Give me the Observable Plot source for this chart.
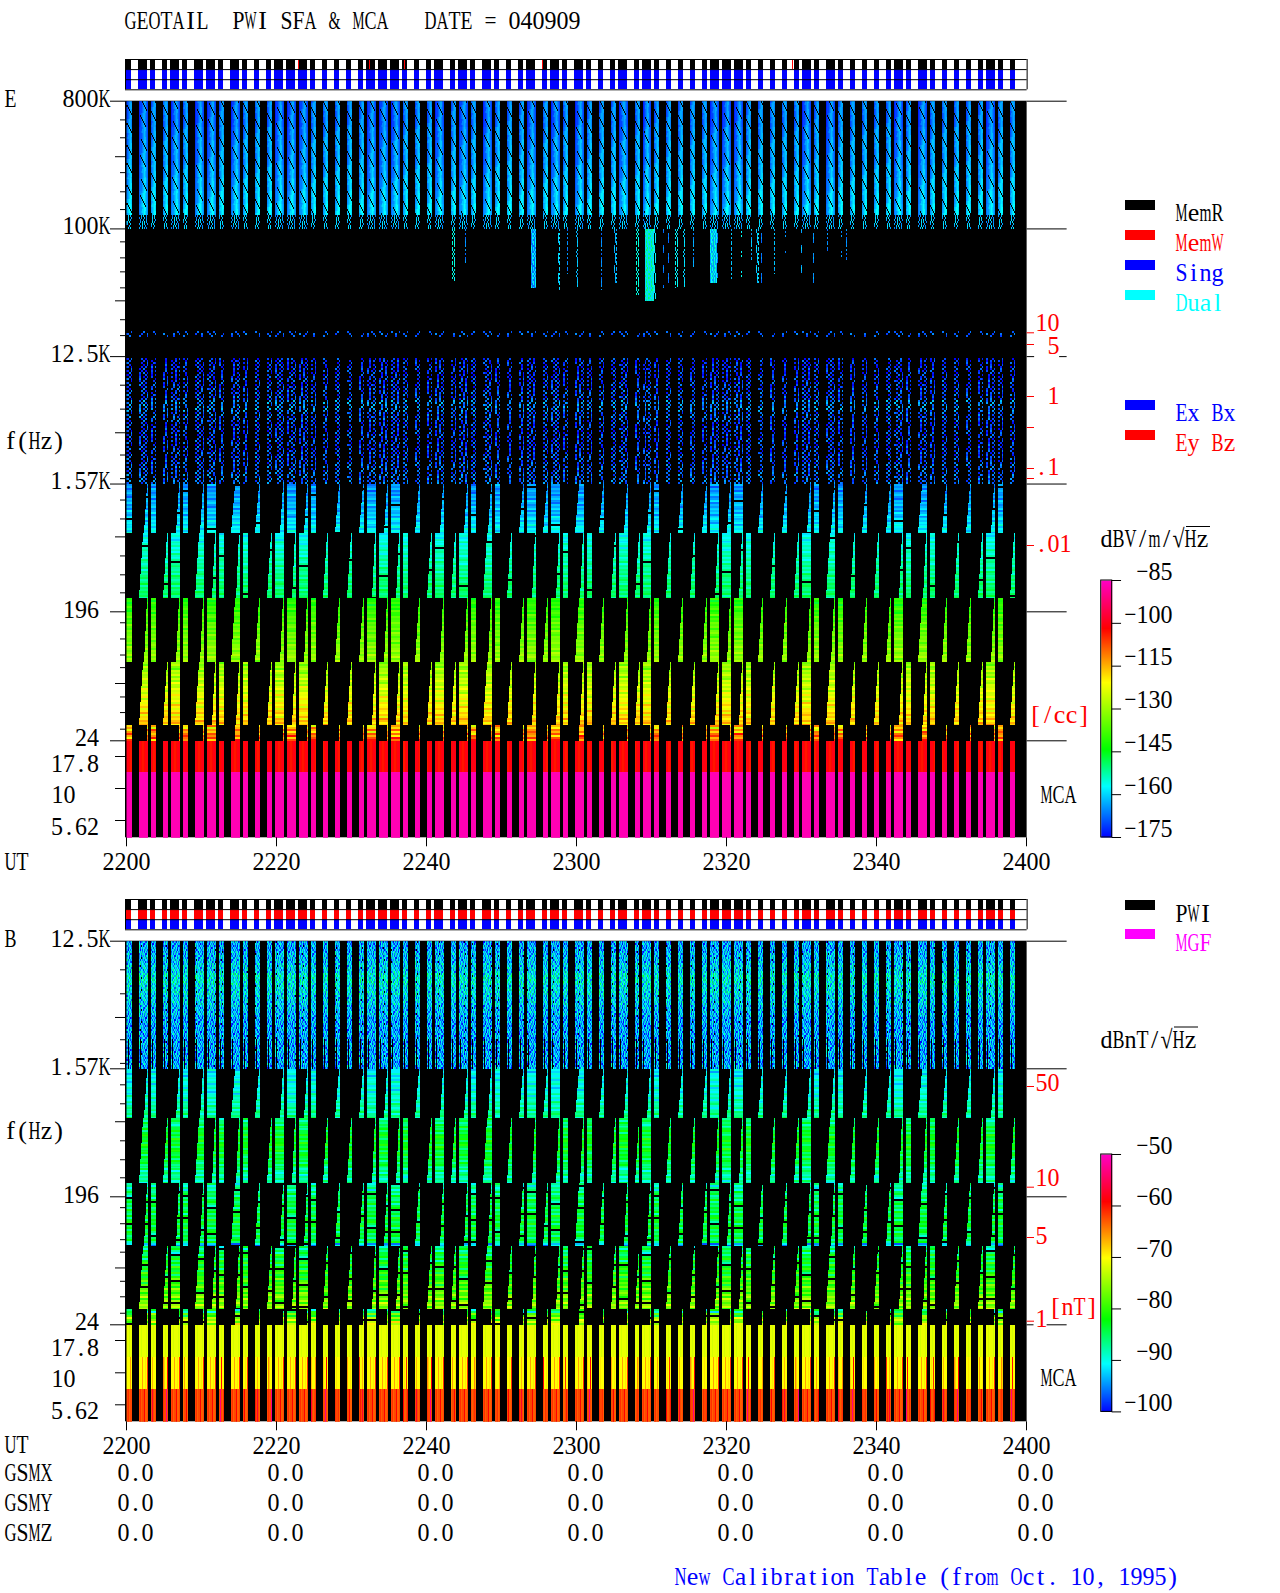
<!DOCTYPE html>
<html><head><meta charset="utf-8">
<script src="https://cdn.jsdelivr.net/npm/d3@7"></script>
<script src="https://cdn.jsdelivr.net/npm/@observablehq/plot@0.6"></script>
<style>
html,body{margin:0;background:#fff}
#page{position:relative;width:1280px;height:1593px;overflow:hidden;background:#fff}
#page svg{position:absolute}
.sw{position:absolute;width:30px;height:10px}
</style></head><body><div id="page"></div>
<script>
// ---------- values ----------
const burstStart=[0,96,192,288,352,448,544,640,736,832,928,1024,1120,1184,1280,1376,1472,1568,1664,1760,1856,1920,2016,2112,2208,2304,2400,2464,2592,2656,2752,2848,2944,3040,3136,3200,3328,3392,3488,3584,3680,3776,3872,3936,4064,4128,4224,4320,4416,4512,4608,4672,4768,4864,4960,5056,5152,5248,5344,5408,5504,5600,5696,5792,5888,5984,6080,6144,6240,6336,6432,6528,6624,6720,6816,6880,6976,7072];
const burstWide="nwnnwnwwnwnnnwwwnnnnnwwwnnnwnwnwnnnwnwnwnnnwnwnnnnnwwwnnnnnwnwnnnnnwnwnnnnnwnn";
const burstOdd ="RNR-NRNR-W-W-NRNR-W-WRNR-W-N-NRNR-WRWR-W-W-N-NR-W-WRNR-W-W-NRNR-W-WR-W-W-W-NR-";
const burstEven="-W-WR-WNRNR-WRNR-W-W-NRNR-WRWR-W-W-N-NRNR-WRWR-W-W-NRNR-W-WR-W-W-W-NRNR-W-WR-W";
const memWrite=[1376,1944,2224,3328,5328];
const xTicks=[0,1200,2400,3600,4800,6000,7200];
const xLabels=["2200","2220","2240","2300","2320","2340","2400"];
const gsmX=["0.0","0.0","0.0","0.0","0.0","0.0","0.0"];
const gsmY=["0.0","0.0","0.0","0.0","0.0","0.0","0.0"];
const gsmZ=["0.0","0.0","0.0","0.0","0.0","0.0","0.0"];

const eMajor=[800000,100000,12500,1570,196,24];
const eMid=[324000,31000,3617,664,61,17.8,10,5.62];
const eMinor=[590000,441000,250000,183000,137000,81000,62400,49700,38300,22800,17600,7850,5316,2518,1714,1210,889,487,358,267,164,126,97,79,49,38,29];
const bMajor=[12500,1570,196,24];
const bMid=[3617,664,61,17.8,10,5.62];
const bMinor=[7850,5316,2518,1714,1210,889,487,358,267,164,126,97,79,49,38,29];
const eFreqNames=["800K","100K","12.5K","1.57K","196","24","17.8","10","5.62"];
const eFreqAt=[800000,100000,12500,1570,196,24,17.8,10,5.62];
const bFreqNames=["12.5K","1.57K","196","24","17.8","10","5.62"];
const bFreqAt=[12500,1570,196,24,17.8,10,5.62];

const blockEdges=[1570,708,246,87,30.8,24,13.3,7.5,3.2];
const eBlock1=[-165,-164,-163,-162,-160,-158];
const eBlock2=[-157,-155,-154,-153,-152,-151,-150,-150];
const eBlock3=[-142,-140,-138,-136,-135,-134,-132,-131];
const eBlock4=[-131,-129,-127,-125,-123,-121,-119,-117];
const eBlock5=[-118,-115,-112,-110];
const bBlock1=[-91,-90,-90,-89,-88,-87];
const bBlock2=[-86,-84,-83,-83,-84,-85,-87,-88];
const bBlock3=[-88,-88,-86,-86,-85,-85,-85,-85,-84,-84,-84,-84,-85,-85,-85,-93];
const bBlock4=[-86,-84,-83,-82,-80,-79,-77,-76];
const bBlock5=[-86,-80,-76,-74];
const eStripes=[0,2,-3,1,3,-1,-4,2,0,3,-2,1,-3,4,0,-2,2,null,1,3,0,-1,2,-3,4,1,-2,0,3,-4,2,-1,1,3,-2,0,4,-3,1,-1,2];
const bStripes=[0,2,-3,1,3,-1,-4,null,0,3,-2,1,-3,4,0,-2,2,-4,1,3,null,-1,2,-3,4,1,-2,0,3,-4,2,null,1,3,-2,0,4,-3,1,-1,2];

const eTopRamp=[-168,-168,-167,-166,-166,-165,-164,-163,-162,-161];
const topPatch=["233456543","233456643","23.456643","233.56643","2334.6543","23345.643","233456.43","2334566.3","233456643","234566543","2.4566543","23.566543","234.66543","2345.6543","23456.543","234566.43","233456643","233556643","234556543","233456543"];
const topTail=[".3.4.5.3.","3..5.4..2",".2.4..3..","3..5.3.2.","..4.5..3.","2.3..4.2.",".2..3..3."];
const speckRamp=[-170,-170,-169,-168,-164,-167,-169,-169,-169,-168,-167,-166];
const speckPatch=["3.5..4.2.3.4",".4.3.5..4.2.","5..2.3.4..5.",".3.4..5.3.2.","4.2..5.3..4.","..5.3.2.4.3.","3.4.2..5..2.",".5..3.4.2.4.","2.3.5..4.3..",".4..2.3..5.3","5.3.4..2.4..","..2.5.3.4..5","4..3.2.5..3.",".5.4..3.2.4.","3..2.4.5.3..",".2.5.3..4.2."];
const dotPatch=["..3....4...3","3..5..2..4..",".4...3...2.."];
const eventSec=[2600,2668,2704,3232,3448,3520,3592,3792,3896,3950,4072,4152,4216,4296,4336,4392,4456,4536,4672,4728,4840,4920,5000,5040,5080,5184,5272,5370,5400,5496,5608,5720,5760];
const eventPx=[3,2,1,5,2,1,2,1,3,7,3,9,3,1,1,3,2,1,7,1,1,1,1,3,1,1,1,1,1,1,1,1,1];
const eventEnd=[43000,41000,57000,38000,37000,48000,38000,37000,41000,34000,34000,31000,32000,38000,41000,38000,38000,53000,41000,45000,43000,41000,60000,41000,41000,48000,67000,60000,45000,41000,67000,53000,60000];
const eventLevel=[-156,-162,-166,-158,-160,-166,-162,-166,-162,-156,-156,-151,-157,-166,-166,-158,-160,-164,-155,-166,-162,-158,-162,-160,-166,-162,-166,-166,-162,-164,-166,-166,-166];
const eventPatch=["4.5.3","5.4..","..53.","4..5.","3.54.",".4.3.","5.3.4",".5..3","4.3.5","..4.3"];

const bTopRamp=[-94,-93,-92,-90,-91,-92,-93,-94,-94,-94,-94,-94];
const bTopPatch=["452364735426","635241.36452","347526413675","524637254163","416352746325","263745134652","574126365214","3625473.5146","451637264573","726345152634","345216473526","163542637451","652473514362","2746135.2647","536274163425","425163746351"];

const eMcaRed=[0,0,-2,-3,-3,-2,0,0,0];
const bMca2=[0,0,0,4,0,0,1,0,9,0,0,3,0,0,0,5,2,0,0,11,0,0,1];
const bMca3=[0,1,-1,0,0,3,-1,-1,0,2,0,5,0,-1,0,1,0,0,9,0,-1,1,0];

const eBarTicks=[-85,-100,-115,-130,-145,-160,-175];
const bBarTicks=[-50,-60,-70,-80,-90,-100];
const eDensity=[10,5,1,0.4,0.1,0.05,0.01];
const eDensityNames=["10","5","1","",".1","",".01"];
const bDensity=[50,10,5,1];
const bDensityNames=["50","10","5","1"];

// ---------- layout and styling ----------
const FONT='"Liberation Serif"', FS=26, CHAR=12;
const RED="#ff0000",BLUE="#0000ff",CYAN="#00ffff",MAG="#ff00ff";
const eStops=[-175,-157,-144,-120.5,-101.5,-85], bStops=[-100,-90.5,-82,-70,-59,-50];
const rainbow=["#0000ff","#00ffff","#00ff00","#ffff00","#ff0000","#ff00c0"];
const page=document.getElementById("page");
const baseStyle={background:"transparent",fontFamily:FONT,fontSize:FS+"px",overflow:"visible"};
const W=900;

const measure=document.createElement("canvas").getContext("2d");
measure.font=FS+"px "+FONT;
function mono(svg){ // bitmap-style half-width character cells
  svg.querySelectorAll("text").forEach(el=>{
    const s=el.textContent, n=s.length; if(!n) return;
    const a=getComputedStyle(el).textAnchor;
    const off=a==="middle"?-n*CHAR/2:a==="end"?-n*CHAR:0;
    const base=+(el.getAttribute("x")||0);
    el.style.textAnchor="start"; el.textContent="";
    [...s].forEach((ch,i)=>{
      const t=document.createElementNS("http://www.w3.org/2000/svg","tspan");
      const adv=measure.measureText(ch).width;
      t.setAttribute("x",base+off+i*CHAR+Math.max(0,(CHAR-adv)/2));
      if(adv>CHAR){t.setAttribute("textLength",CHAR);t.setAttribute("lengthAdjust","spacingAndGlyphs");}
      t.textContent=ch; el.appendChild(t);
    });
  });
}
function place(svg,left,top){svg.style.left=left+"px";svg.style.top=top+"px";page.appendChild(svg);mono(svg);return svg;}
function label(t,px,py,fill="black",anchor="start"){return Plot.text([t],{text:d=>d,frameAnchor:"top-left",lineAnchor:"middle",dx:px-126,dy:py,fill,textAnchor:anchor});}
function pick(arr,t){return arr[Math.min(arr.length-1,Math.floor(t*arr.length))];}

// ---------- spectrogram grid ----------
function leftEdge(mode,s,w,t){
  const e=s+w;
  if(mode==="R") return s;
  if(mode==="W") return Math.round(e-((w-4)+4*t));
  return Math.round(e-(1+3*t));
}
function makeGrid(fy,top,H,blocks,stripes,amps,mca,gapBlocks){
  const grid=new Array(W*H).fill(NaN);
  const put=(x,y,v)=>{if(x>=0&&x<W&&y>=0&&y<H) grid[y*W+x]=v;};
  const row=f=>Math.round(fy(f)-top);
  burstStart.forEach((sec,i)=>{
    const s=sec/8,w=burstWide[i]==="w"?9:5;
    blocks.forEach((lv,k)=>{
      const mode=(k%2===0?burstOdd:burstEven)[i];
      if(mode==="-") return;
      const y0=row(blockEdges[k]),y1=row(blockEdges[k+1]);
      for(let y=y0;y<y1;y++){
        const t=k===4?0:(y-y0)/(y1-y0);
        let st=stripes[(Math.floor((y-y0)/2)+i*11)%stripes.length];
        if(st===null){ if(gapBlocks.includes(k)) continue; st=0; }
        const v=pick(lv,(y-y0)/(y1-y0))+st*amps[k];
        for(let x=leftEdge(mode,s,w,t);x<s+w;x++) put(x,y,v);
      }
    });
    mca.forEach((m,k)=>{
      const y0=row(blockEdges[5+k]),y1=row(blockEdges[6+k]);
      for(let y=y0;y<y1;y++) for(let c=0;c<w;c++) put(s+c,y,m.level+m.cols[(c+(w===9?0:i*5))%m.cols.length]);
    });
  });
  return grid;
}
// the image layer: x in seconds, y in image rows
function rasterLayer(grid,H,top,frameTop,frameBottom,stops){
  return place(Plot.plot({width:1280,height:frameBottom+5,marginLeft:126,marginRight:254,marginTop:0,marginBottom:5,style:baseStyle,
    x:{domain:[0,7200],axis:null},y:{domain:[0,H],range:[frameTop,frameBottom],axis:null},
    color:{type:"linear",domain:stops,range:rainbow,clamp:true},
    marks:[
      Plot.rect([0],{x1:-8,x2:7205,y1:0,y2:H,fill:"black"}),
      Plot.raster(grid,{width:W,height:H,x1:0,x2:7200,y1:0,y2:H,pixelSize:1,imageRendering:"pixelated"})
    ]}),0,top);
}

// ---------- E panel ----------
const eDomain=[800000,24,17.8,10,5.62,3.2], eRange=[100.7,740.3,756,788,820,837.3];
const fyE=d3.scaleLog().domain(eDomain).range(eRange);
const eH=737;
const eGrid=makeGrid(fyE,100.7,eH,[eBlock1,eBlock2,eBlock3,eBlock4,eBlock5],eStripes,[1.2,1,1.2,1.5,2.5],
  [{level:-100,cols:eMcaRed},{level:-86,cols:[0]},{level:-86,cols:[0]}],[0,1]);
(function paintETop(){
  const row=f=>Math.round(fyE(f)-100.7);
  const put=(x,y,v)=>{if(x>=0&&x<W&&y>=0&&y<eH) eGrid[y*W+x]=v;};
  const end100=row(100000),spTop=row(12200),spEnd=row(1570),dTop=row(19000);
  burstStart.forEach((sec,i)=>{
    const s=sec/8,w=burstWide[i]==="w"?9:5,cs=w===9?0:2;
    for(let y=0;y<end100;y++){
      const r=Math.floor(y/2),ramp=pick(eTopRamp,y/end100);
      for(let c=0;c<w;c++){
        const tail=y>=end100-14;
        const p=tail?topTail[(r+i*3)%topTail.length]:topPatch[(r+i*3)%topPatch.length];
        const d=p[(c+cs)%9];
        if(d!==".") put(s+c,y,ramp+(d-4)*2.5);
      }
    }
    for(let y=dTop;y<dTop+6;y++){
      const p=dotPatch[Math.floor((y-dTop)/2)];
      for(let c=0;c<w;c++){const d=p[(Math.floor(c/2)+i*5)%12]; if(d!==".") put(s+c,y,-175+d*2);}
    }
    for(let y=spTop;y<spEnd;y++){
      const r=Math.floor((y-spTop)/2),ramp=pick(speckRamp,(y-spTop)/(spEnd-spTop));
      const p=speckPatch[(r+i*7)%speckPatch.length];
      for(let c=0;c<w;c++){
        const d=p[(Math.floor(c/2)+i*5)%12];
        if(d!==".") put(s+c,y,ramp+(d-4)*3);
      }
    }
  });
  eventSec.forEach((sec,j)=>{
    const s=sec/8,w=eventPx[j],y1=row(eventEnd[j]);
    for(let y=end100;y<y1;y++){
      const p=eventPatch[Math.floor(y/2)%eventPatch.length];
      for(let c=0;c<w;c++){
        const d=p[(c+j)%5];
        if(d!=="."||w>=5) put(s+c,y,eventLevel[j]+(d==="."?-9:(d-4)*2));
      }
    }
  });
})();
function freqLabels(names,at,xEnd,dy){
  return names.map((n,i)=>Plot.text([at[i]],{y:d=>d,text:()=>n,frameAnchor:"left",dx:xEnd[i]-126,dy:dy[i],textAnchor:"end"}));
}
function tickMarks(major,mid,minor,right){
  return [
    Plot.ruleY(major,{y:d=>d,x1:-128,x2:-8,stroke:"black"}),
    Plot.ruleY(mid,{y:d=>d,x1:-88,x2:-8,stroke:"black"}),
    Plot.ruleY(minor,{y:d=>d,x1:-48,x2:-8,stroke:"black"}),
    Plot.ruleY(right,{y:d=>d,x1:7205,x2:7525,stroke:"black"})
  ];
}
const xAxis=Plot.axisX({ticks:xTicks,tickFormat:d=>xLabels[xTicks.indexOf(d)],tickSize:9,tickPadding:5,label:null,anchor:"bottom"});
rasterLayer(eGrid,eH,0,100.7,837.3,eStops);
const ePanel=Plot.plot({width:1280,height:880,marginLeft:126,marginRight:254,marginTop:0,marginBottom:42.7,style:baseStyle,
  x:{domain:[0,7200],axis:null},
  y:{type:"log",domain:eDomain,range:eRange,axis:null},
  marks:[
    ...tickMarks(eMajor,eMid,eMinor,[800000,100000,1570,196,24]),
    Plot.ruleY([12500],{y:d=>d,x1:7205,x2:7265,stroke:"black"}),
    Plot.ruleY([12500],{y:d=>d,x1:7465,x2:7525,stroke:"black"}),
    xAxis,
    ...freqLabels(eFreqNames,eFreqAt,[110,110,110,110,98.6,98.6,98.6,75,98.6],[-3,-3,-3,-3,-2,-3,7,6,6]),
    label("GEOTAIL  PWI SFA & MCA   DATE = 040909",124,20),
    label("E",4,98),label("f(Hz)",4,440),label("UT",4,861),
    label("MemR",1175,212),label("MemW",1175,242,RED),label("Sing",1175,272,BLUE),label("Dual",1175,302,CYAN),
    label("Ex Bx",1175,412,BLUE),label("Ey Bz",1175,442,RED),
    label("dBV/m/√Hz",1100,538),
    label("[/cc]",1029,714,RED),label("MCA",1040,794)
  ]});
place(ePanel,0,0);

// ---------- B panel ----------
const bDomain=[12500,1570,196,24,17.8,10,5.62,3.2], bRange=[60.7,188.3,316.3,444.3,460,492.3,524.3,541.3];
const fyB=d3.scaleLog().domain(bDomain).range(bRange);
const bH=481;
const bGrid=makeGrid(fyB,60.7,bH,[bBlock1,bBlock2,bBlock3,bBlock4,bBlock5],bStripes,[0.8,0.9,1,1.2,1.5],
  [{level:-71,cols:[0,0,-1,0,0]},{level:-70,cols:bMca2},{level:-62,cols:bMca3}],[2,3,4]);
(function paintBTop(){
  const row=f=>Math.round(fyB(f)-60.7);
  const end=row(1570);
  burstStart.forEach((sec,i)=>{
    const s=sec/8,w=burstWide[i]==="w"?9:5;
    for(let y=0;y<end;y++){
      const r=Math.floor(y/2),ramp=pick(bTopRamp,y/end);
      const p=bTopPatch[(r+i*5)%bTopPatch.length];
      for(let c=0;c<w;c++){
        const d=p[(c+i*5)%12];
        if(d==="."||(y>=end-30&&c===1)) continue;
        bGrid[y*W+s+c]=ramp+(d-4)*2;
      }
    }
  });
})();
rasterLayer(bGrid,bH,880,60.7,541.3,bStops);
const bPanel=Plot.plot({width:1280,height:713,marginLeft:126,marginRight:254,marginTop:0,marginBottom:171.7,style:baseStyle,
  x:{domain:[0,7200],axis:null},
  y:{type:"log",domain:bDomain,range:bRange,axis:null},
  marks:[
    ...tickMarks(bMajor,bMid,bMinor,[12500,1570,196]),
    Plot.ruleY([24],{y:d=>d,x1:7205,x2:7260,stroke:"black"}),
    Plot.ruleY([24],{y:d=>d,x1:7365,x2:7525,stroke:"black"}),
    xAxis,
    ...freqLabels(bFreqNames,bFreqAt,[110,110,98.6,98.6,98.6,75,98.6],[-3,-2,-2,-3,7,6,6]),
    ...[[gsmX,592],[gsmY,622],[gsmZ,652]].map(([vals,py])=>Plot.text(xTicks,{x:d=>d,text:(d,i)=>vals[i],frameAnchor:"top",lineAnchor:"middle",dx:9,dy:py,textAnchor:"middle"})),
    label("B",4,58),label("f(Hz)",4,250),label("UT",4,564),label("GSMX",4,592),label("GSMY",4,622),label("GSMZ",4,652),
    label("PWI",1175,33),label("MGF",1175,62,MAG),
    label("dBnT/√Hz",1100,159),
    label("[nT]",1049,426,RED),label("MCA",1040,497),
    label("New Calibration Table (from Oct. 10, 1995)",674,696,BLUE)
  ]});
place(bPanel,0,880);

// ---------- mode strips ----------
function strip(top,colors){
  const marks=[];
  colors.forEach((c,r)=>marks.push(Plot.rect(burstStart,{x1:d=>d,x2:(d,i)=>d+(burstWide[i]==="w"?72:40),y1:r,y2:r+1,fill:c,shapeRendering:"crispEdges"})));
  return place(Plot.plot({width:1280,height:34,marginLeft:126,marginRight:254,marginTop:1,marginBottom:2.7,style:baseStyle,
    x:{domain:[0,7200],axis:null},y:{domain:[0,3],range:[1,31.3],axis:null},
    marks:[...marks,
      top===58?Plot.rect(memWrite,{x1:d=>d,x2:d=>d+8,y1:0,y2:1,fill:RED,shapeRendering:"crispEdges"}):null,
      Plot.ruleY([0,1,2,3],{y:d=>d,x1:-8,x2:7205,stroke:"black"}),
      Plot.ruleX([-8,7205],{x:d=>d,y1:0,y2:3,stroke:"black"})
    ]}),0,top);
}
strip(58,["black",BLUE,BLUE]);
strip(898,["black",RED,BLUE]);

// ---------- colour bars ----------
function colorBar(top,h,ticks,stops){
  const cells=d3.range(stops[stops.length-1],stops[0],-(stops[stops.length-1]-stops[0])/256);
  const lo=ticks[ticks.length-1],hi=ticks[0];
  return place(Plot.plot({width:190,height:h+20,marginLeft:10.7,marginRight:168.3,marginTop:5,marginBottom:15,style:baseStyle,
    x:{domain:[0,1],axis:null},y:{domain:[lo,hi],range:[h+5,5],axis:null},
    color:{type:"linear",domain:stops,range:rainbow,clamp:true},
    marks:[
      Plot.raster(cells,{width:1,height:cells.length,x1:0,x2:1,y1:hi,y2:lo,imageRendering:"pixelated"}),
      Plot.ruleY(ticks,{y:d=>d,x1:1,x2:1.85,stroke:"black"}),
      Plot.rect([0],{x1:0,x2:1,y1:lo,y2:hi,stroke:"black",fill:"none"}),
      Plot.text(ticks,{y:d=>d,text:d=>"−"+Math.abs(d),frameAnchor:"left",dx:71.3,dy:-9,textAnchor:"end"})
    ]}),1090,top-5);
}
colorBar(580.3,257,eBarTicks,eStops);
colorBar(1154.3,257.4,bBarTicks,bStops);

// ---------- density scales ----------
function densityAxis(top,h,values,names,range,xs,dys){
  return place(Plot.plot({width:60,height:h,marginLeft:0.7,marginRight:52,marginTop:0,marginBottom:0,style:baseStyle,
    x:{domain:[0,1],axis:null},y:{type:"log",domain:values,range,axis:null},
    marks:[
      Plot.ruleY(values,{y:d=>d,x1:0,x2:1,stroke:RED}),
      ...names.map((n,i)=>n?Plot.text([values[i]],{y:d=>d,text:()=>n,frameAnchor:"left",dx:xs[i],dy:dys[i],fill:RED,textAnchor:"start"}):null)
    ]}),1026,top);
}
densityAxis(0,880,eDensity,eDensityNames,[332.3,344,396,427,468,478,545],[8.3,20.3,20.3,0,8.3,0,8.3],[-10,1,-1,0,-2,0,-2]);
densityAxis(880,541,bDensity,bDensityNames,[206,306.7,357,440.7],[8.3,8.3,8.3,8.3],[-4,-10,-2,-3]);

// ---------- legend swatches and radical bars ----------
[[200,"black"],[230,RED],[260,BLUE],[290,CYAN],[400,BLUE],[430,RED],[899.5,"black"],[929,MAG]].forEach(([y,c])=>{
  const d=document.createElement("div");d.className="sw";d.style.left="1125px";d.style.top=y+"px";d.style.background=c;page.appendChild(d);
});
d3.select(ePanel).append("line").attr("x1",1186).attr("x2",1210).attr("y1",526.5).attr("y2",526.5).attr("stroke","black");
d3.select(bPanel).append("line").attr("x1",1174).attr("x2",1198).attr("y1",147).attr("y2",147).attr("stroke","black");
</script></body></html>
